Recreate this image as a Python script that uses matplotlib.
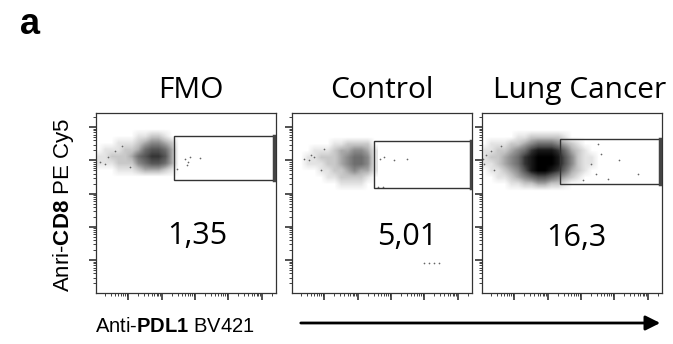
import numpy as np
import matplotlib.pyplot as plt
from matplotlib.patches import Rectangle, FancyArrowPatch
from matplotlib.colors import PowerNorm

plt.rcParams['mathtext.fontset'] = 'custom'
plt.rcParams['mathtext.rm'] = 'Liberation Sans'
plt.rcParams['mathtext.bf'] = 'Liberation Sans:bold'

# panel titles and % of cells inside the PDL1+ gate
titles = ['FMO', 'Control', 'Lung Cancer']
pct_labels = ['1,35', '5,01', '16,3']

# gates in log-decade units: (x0, y0, x1, y1)
gates = [(1.38, 2.40, 4.37, 3.75),
         (1.49, 2.16, 4.39, 3.59),
         (1.38, 2.30, 4.37, 3.65)]

# event density (0 = empty, 9 = solid black)
fmo_x = [-0.9, -0.7, -0.5, -0.3, -0.1, 0.1, 0.3, 0.5, 0.7, 0.9, 1.1, 1.3, 1.5]
fmo_y = [3.9, 3.7, 3.5, 3.3, 3.1, 2.9, 2.7, 2.5]
fmo_density = [
    [0, 0, 0, 0, 0, 0, 0, 0, 0, 0, 0, 0, 0],
    [0, 0, 0, 0, 0, 0, 1, 1, 2, 2, 1, 0, 0],
    [0, 0, 0, 1, 1, 1, 2, 3, 4, 4, 3, 2, 0],
    [0, 1, 1, 1, 2, 2, 3, 5, 6, 6, 5, 3, 0],
    [1, 1, 2, 2, 2, 3, 5, 6, 7, 7, 6, 3, 0],
    [1, 1, 1, 2, 2, 2, 4, 5, 6, 6, 5, 3, 0],
    [0, 0, 0, 1, 1, 1, 2, 3, 3, 3, 2, 1, 0],
    [0, 0, 0, 0, 0, 0, 0, 0, 0, 0, 0, 0, 0],
]

ctrl_x = [-0.7, -0.5, -0.3, -0.1, 0.1, 0.3, 0.5, 0.7, 0.9, 1.1, 1.3, 1.5]
ctrl_y = [3.7, 3.5, 3.3, 3.1, 2.9, 2.7, 2.5, 2.3, 2.1]
ctrl_density = [
    [0, 0, 0, 0, 0, 0, 0, 0, 0, 0, 0, 0],
    [0, 0, 0, 0, 0, 1, 1, 2, 2, 2, 2, 0],
    [0, 0, 1, 1, 1, 2, 3, 3, 4, 4, 3, 1],
    [0, 1, 1, 2, 2, 2, 3, 4, 5, 5, 4, 1],
    [0, 1, 1, 1, 2, 2, 3, 4, 5, 5, 4, 1],
    [0, 0, 0, 1, 1, 2, 2, 3, 4, 3, 3, 1],
    [0, 0, 0, 0, 1, 1, 2, 2, 2, 2, 1, 0],
    [0, 0, 0, 0, 0, 0, 1, 1, 1, 1, 0, 0],
    [0, 0, 0, 0, 0, 0, 0, 0, 0, 0, 0, 0],
]

lung_x = [-1.1, -0.9, -0.7, -0.5, -0.3, -0.1, 0.1, 0.3, 0.5, 0.7,
          0.9, 1.1, 1.3, 1.5, 1.7, 1.9, 2.1, 2.3, 2.5]
lung_y = [3.9, 3.7, 3.5, 3.3, 3.1, 2.9, 2.7, 2.5, 2.3, 2.1]
lung_density = [
    [0, 0, 0, 0, 0, 0, 0, 0, 0, 0, 0, 0, 0, 0, 0, 0, 0, 0, 0],
    [0, 0, 0, 0, 0, 0, 1, 1, 2, 2, 2, 2, 2, 1, 0, 0, 0, 0, 0],
    [0, 0, 1, 1, 1, 2, 2, 3, 4, 5, 5, 5, 4, 3, 2, 1, 0, 0, 0],
    [0, 1, 1, 2, 2, 3, 4, 5, 7, 8, 8, 8, 7, 5, 3, 2, 1, 0, 0],
    [0, 1, 2, 2, 3, 4, 5, 7, 8, 9, 9, 9, 8, 6, 4, 2, 1, 1, 0],
    [0, 1, 1, 2, 3, 4, 5, 7, 8, 9, 9, 9, 8, 6, 4, 2, 1, 1, 0],
    [0, 0, 1, 1, 2, 3, 4, 6, 8, 9, 9, 8, 7, 5, 3, 2, 1, 0, 0],
    [0, 0, 0, 1, 1, 2, 3, 4, 5, 6, 6, 5, 4, 3, 2, 1, 0, 0, 0],
    [0, 0, 0, 0, 0, 1, 1, 2, 2, 3, 3, 2, 2, 1, 0, 0, 0, 0, 0],
    [0, 0, 0, 0, 0, 0, 0, 0, 0, 0, 0, 0, 0, 0, 0, 0, 0, 0, 0],
]

# single stray events
fmo_pts_x = [1.71, 1.75, 1.86, 2.16, 1.80, 1.45, -0.85, -0.60, -0.40, -0.70, -0.20, 0.05]
fmo_pts_y = [3.05, 2.85, 3.10, 3.08, 2.95, 2.75, 2.95, 3.10, 3.30, 2.90, 3.45, 2.80]
ctrl_pts_x = [1.67, 1.80, 2.10, 2.47, 1.60, 1.75, -0.45, -0.30, -0.40, -0.60,
              -0.10, 0.00, 3.00, 3.15, 3.30, 3.45]
ctrl_pts_y = [3.05, 3.10, 3.02, 3.05, 2.20, 2.20, 3.00, 3.10, 3.15, 3.05,
              2.70, 3.35, -0.08, -0.08, -0.08, -0.08]
lung_pts_x = [2.50, 3.15, 3.72, 2.80, 2.45, 2.05, -0.90, -0.85, -0.70, -0.95,
              -0.60, -0.40, 2.30, 2.60]
lung_pts_y = [3.50, 3.00, 2.60, 2.45, 2.60, 2.40, 2.90, 3.15, 3.30, 3.05,
              2.70, 3.45, 2.90, 3.20]

clouds = [(fmo_x, fmo_y, fmo_density, fmo_pts_x, fmo_pts_y),
          (ctrl_x, ctrl_y, ctrl_density, ctrl_pts_x, ctrl_pts_y),
          (lung_x, lung_y, lung_density, lung_pts_x, lung_pts_y)]

W, H = 673, 344
fig = plt.figure(figsize=(W / 100, H / 100), dpi=100)

lo, hi = -0.98, 4.42
lefts = [95.7, 291.7, 481.7]
title_x = [191, 381.7, 580]
pct_pos = [(2.08, 0.74), (2.49, 0.71), (1.87, 0.67)]
minor = [k + np.log10(m) for k in range(-1, 5) for m in range(2, 10)]
minor = [v for v in minor if lo < v < hi]

for i, (cx, cy, dens, px, py) in enumerate(clouds):
    ax = fig.add_axes([lefts[i] / W, 51.3 / H, 180 / W, 179.4 / H])
    ext = [cx[0] - 0.1, cx[-1] + 0.1, cy[-1] - 0.1, cy[0] + 0.1]
    ax.imshow(np.array(dens, dtype=float), extent=ext, origin='upper',
              cmap='Greys', norm=PowerNorm(0.75, vmin=0, vmax=9),
              interpolation='bilinear', aspect='auto', zorder=0)
    ax.scatter(px, py, s=1.5, color='#666666', linewidths=0, zorder=1)
    x0, y0, x1, y1 = gates[i]
    ax.add_patch(Rectangle((x0, y0), x1 - x0, y1 - y0, fill=False,
                           edgecolor='#333333', linewidth=1.0, zorder=3))
    ax.plot([x1, x1], [y0, y1], color='#444444', linewidth=2.5, zorder=3)
    ax.text(pct_pos[i][0], pct_pos[i][1], pct_labels[i], fontsize=22,
            family='Open Sans', ha='center', va='center')
    ax.set_xlim(lo, hi)
    ax.set_ylim(lo, hi)
    ax.set_xticks(range(5))
    ax.set_yticks(range(5))
    ax.set_xticks(minor, minor=True)
    ax.set_yticks(minor, minor=True)
    ax.tick_params(which='major', direction='out', length=5, width=1.1,
                   color='#222222', labelbottom=False, labelleft=False)
    ax.tick_params(which='minor', direction='out', length=2.5, width=0.6,
                   color='#222222')
    for s in ax.spines.values():
        s.set_color('#333333')
        s.set_linewidth(0.9)
    fig.text(title_x[i] / W, 1 - 98 / H, titles[i], fontsize=21.5,
             family='Open Sans', ha='center', va='baseline')

fig.text(64 / W, 1 - 205 / H, r'Anri-$\mathbf{CD8}$ PE Cy5', rotation=90,
         fontsize=16, family='Liberation Sans', ha='center', va='center')
fig.text(95 / W, 1 - 326 / H, r'Anti-$\mathbf{PDL1}$ BV421', fontsize=14.5,
         family='Liberation Sans', ha='left', va='center')
fig.text(20 / W, 1 - 34 / H, 'a', fontsize=26, fontweight='bold',
         family='Liberation Sans', ha='left', va='baseline')
fig.add_artist(FancyArrowPatch(
    (298 / W, 1 - 323 / H), (663 / W, 1 - 323 / H),
    transform=fig.transFigure, arrowstyle='-|>', mutation_scale=22,
    linewidth=2, color='black'))

fig.savefig('out.png', dpi=100)
